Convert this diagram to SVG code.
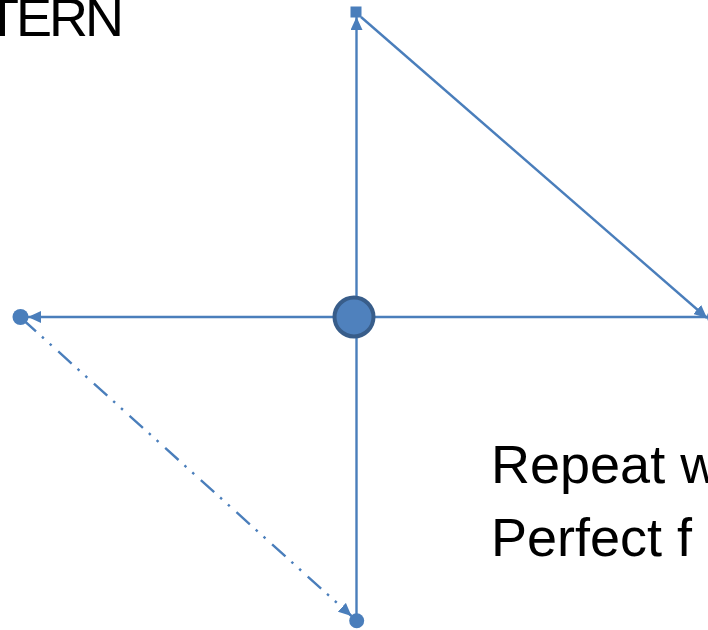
<svg xmlns="http://www.w3.org/2000/svg" width="708" height="630" viewBox="0 0 708 630">
  <style>
    .ln { stroke: #4A7EBB; stroke-width: 2.4; fill: none; }
    .dd { stroke-dasharray: 18 8 2.5 8 2.5 9; stroke-dashoffset: 4; }
    .dot { fill: #4A7EBB; }
    .txt { font-family: "Liberation Sans", Arial, sans-serif; font-size: 54px; fill: #000; }
  </style>
  <defs>
    <marker id="arr" viewBox="0 0 13 12" refX="13" refY="6" markerWidth="13" markerHeight="12" markerUnits="userSpaceOnUse" orient="auto">
      <path d="M0,0 L13,6 L0,12 z" fill="#4A7EBB"/>
    </marker>
  </defs>
  <rect width="708" height="630" fill="#fff"/>
  <g id="texts">
    <text class="txt" x="-14" y="36" textLength="138" lengthAdjust="spacing">TERN</text>
    <text class="txt" x="491" y="483">Repeat w</text>
    <text class="txt" x="491" y="556">Perfect f</text>
  </g>
  <g id="connectors">
    <line class="ln" x1="356.5" y1="317" x2="356.5" y2="17" marker-end="url(#arr)"/>
    <line class="ln" x1="356.5" y1="317" x2="356.5" y2="614"/>
    <line class="ln" x1="354" y1="317" x2="28" y2="317" marker-end="url(#arr)"/>
    <line class="ln" x1="354" y1="317" x2="708" y2="317"/>
    <line class="ln" x1="361" y1="17" x2="707" y2="318" marker-end="url(#arr)"/>
    <line class="ln dd" x1="25.6" y1="322" x2="351.5" y2="616" marker-end="url(#arr)"/>
  </g>
  <g id="node-top"><rect class="dot" x="350.5" y="6.5" width="11" height="11"/></g>
  <g id="node-left"><circle class="dot" cx="20.5" cy="317" r="8"/></g>
  <g id="node-bottom"><circle class="dot" cx="356.7" cy="620.7" r="7.5"/></g>
  <g id="node-right"><circle class="dot" cx="715" cy="317" r="8"/></g>
  <g id="node-center"><circle cx="354" cy="317" r="19.5" fill="#4F81BD" stroke="#385D8A" stroke-width="4"/></g>
</svg>
